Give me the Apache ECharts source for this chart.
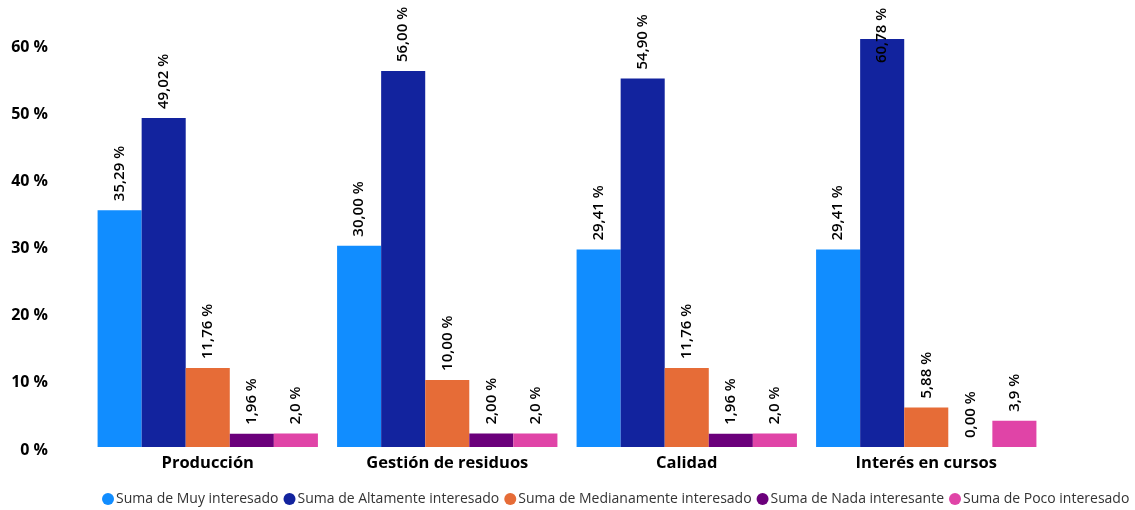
<!DOCTYPE html>
<html>
<head>
<meta charset="utf-8">
<script src="https://cdn.jsdelivr.net/npm/echarts@6/dist/echarts.min.js"></script>
<style>
  html, body { margin: 0; padding: 0; background: #ffffff; }
  #chart { width: 1135px; height: 510px; }
</style>
</head>
<body>
<div id="chart"></div>
<script>
const categories = ['Producción', 'Gestión de residuos', 'Calidad', 'Interés en cursos'];
const seriesNames = ['Suma de Muy interesado', 'Suma de Altamente interesado', 'Suma de Medianamente interesado', 'Suma de Nada interesante', 'Suma de Poco interesado'];
const muyInteresado = [35.29, 30.00, 29.41, 29.41];
const altamenteInteresado = [49.02, 56.00, 54.90, 60.78];
const medianamenteInteresado = [11.76, 10.00, 11.76, 5.88];
const nadaInteresante = [1.96, 2.00, 1.96, 0.00];
const pocoInteresado = [2.0, 2.0, 2.0, 3.9];
const labelDecimals = [2, 2, 2, 2, 1];
const colors = ['#118DFF', '#12239E', '#E66C37', '#6B007B', '#E044A7'];
const yTicks = [0, 10, 20, 30, 40, 50, 60];

const FONT = '"Open Sans", "Noto Sans", sans-serif';
const allData = [muyInteresado, altamenteInteresado, medianamenteInteresado, nadaInteresante, pocoInteresado];

const chart = echarts.init(document.getElementById('chart'));

const series = allData.map((arr, si) => ({
  name: seriesNames[si],
  type: 'bar',
  barGap: '0%',
  barCategoryGap: '8%',
  itemStyle: { color: colors[si] },
  data: arr.map((v, i) => {
    const d = { value: v };
    if (v > 58) {
      d.label = { distance: -24 };
    }
    return d;
  }),
  label: {
    show: true,
    position: 'top',
    rotate: 90,
    align: 'left',
    verticalAlign: 'middle',
    distance: 9,
    color: '#000000',
    fontFamily: FONT,
    fontSize: 15,
    fontWeight: 600,
    formatter: p => p.value.toFixed(labelDecimals[si]).replace('.', ',') + ' %'
  }
}));

chart.setOption({
  animation: false,
  backgroundColor: '#ffffff',
  color: colors,
  grid: { left: 88, right: 89, top: 4, bottom: 63, containLabel: false },
  legend: {
    data: seriesNames,
    top: 492,
    left: 102,
    width: 1033,
    icon: 'circle',
    itemWidth: 12,
    itemHeight: 12,
    itemGap: 5,
    padding: 0,
    textStyle: { fontFamily: FONT, fontSize: 14, color: '#333333', padding: [0, 0, 0, -3] }
  },
  xAxis: {
    type: 'category',
    data: categories,
    axisLine: { show: false },
    axisTick: { show: false },
    axisLabel: {
      margin: 8,
      color: '#000000',
      fontFamily: FONT,
      fontSize: 16.5,
      fontWeight: 'bold'
    }
  },
  yAxis: {
    type: 'value',
    min: 0,
    max: 66,
    interval: 10,
    splitLine: { show: false },
    axisLine: { show: false },
    axisTick: { show: false },
    axisLabel: {
      margin: 40,
      color: '#000000',
      fontFamily: FONT,
      fontSize: 16,
      fontWeight: 'bold',
      formatter: v => yTicks.includes(v) ? '{a|' + v + ' %}' : '',
      rich: {
        a: {
          color: '#000000',
          fontFamily: FONT,
          fontSize: 16,
          fontWeight: 'bold',
          padding: [6, 0, 0, 0]
        }
      }
    }
  },
  series: series
});
</script>
</body>
</html>
